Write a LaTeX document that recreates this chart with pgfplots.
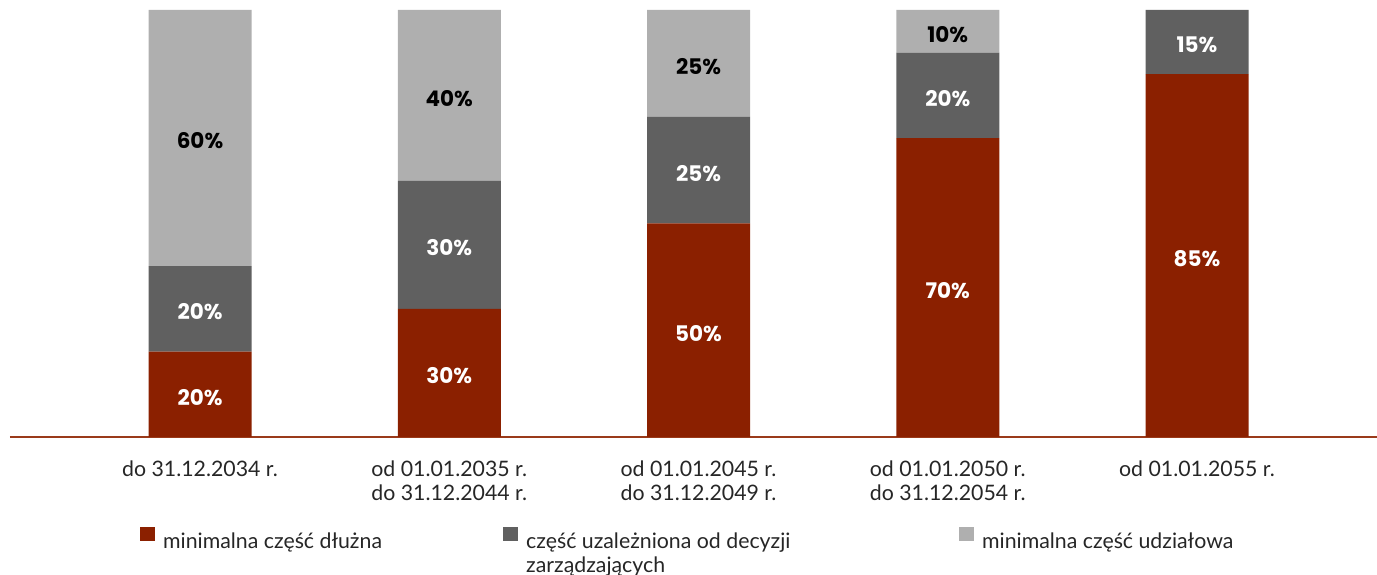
\documentclass[border=0pt]{standalone}
\usepackage{fontspec}
\setmainfont{Lato}
\newfontfamily\valfont{Poppins}
\usepackage{pgfplots}
\usepackage{pgfplotstable}
\pgfplotsset{compat=1.18}
\definecolor{dred}{HTML}{8B2000}
\definecolor{dgray}{HTML}{606060}
\definecolor{lgray}{HTML}{AFAFAF}
\definecolor{axred}{HTML}{9A3A1A}
\pgfplotstableread{
x a b
200 20 20
449.25 30 30
698.5 50 25
947.75 70 20
1197 85 15
}\dataab
\pgfplotstableread{
x c
200 60
449.25 40
698.5 25
947.75 10
}\datac
\begin{document}
\begin{tikzpicture}[x=1pt,y=1pt]
\useasboundingbox (0,0) rectangle (1377,575);
\begin{axis}[
  at={(10pt,138pt)}, anchor=south west,
  scale only axis, width=1367pt, height=427pt,
  xmin=10, xmax=1377, ymin=0, ymax=100,
  ybar stacked, bar width=103,
  axis x line=bottom, axis y line=none,
  x axis line style={-, color=axred, line width=2pt},
  xtick={200,449.25,698.5,947.75,1197},
  xticklabels={{do 31.12.2034 r.},{od 01.01.2035 r.\\do 31.12.2044 r.},{od 01.01.2045 r.\\do 31.12.2049 r.},{od 01.01.2050 r.\\do 31.12.2054 r.},{od 01.01.2055 r.}},
  major tick length=0pt,
  xticklabel style={align=center, anchor=north, inner sep=0pt, yshift=-24pt, font=\fontsize{21.3}{24}\selectfont, text=black!85},
  ytick=\empty,
  point meta=explicit symbolic,
  nodes near coords={\valfont\bfseries\pgfplotspointmeta\%},
  every node near coord/.append style={anchor=center, inner sep=0pt, yshift=-3pt, font=\fontsize{21.5}{22}\selectfont},
  legend columns=3,
  legend cell align=left,
  legend image code/.code={\fill[#1] (0pt,0pt) rectangle (15pt,14.5pt);},
  legend style={at={(axis description cs:0.0951,-0.21)}, anchor=north west, draw=none, inner sep=0pt, fill=none,
    font=\fontsize{21.3}{24}\selectfont, text=black!85,
    /tikz/every odd column/.append style={column sep=8pt},
    nodes={inner sep=0pt}},
]
\addplot[fill=dred, draw=none, every node near coord/.append style={text=white}] table[x=x, y=a, meta=a] {\dataab};
\addlegendentry{\parbox[t]{340pt}{minimalna część dłużna}}
\addplot[fill=dgray, draw=none, every node near coord/.append style={text=white}] table[x=x, y=b, meta=b] {\dataab};
\addlegendentry{\parbox[t]{433pt}{część uzależniona od decyzji\\zarządzających}}
\addplot[fill=lgray, draw=none, every node near coord/.append style={text=black}] table[x=x, y=c, meta=c] {\datac};
\addlegendentry{minimalna część udziałowa}
\end{axis}
\end{tikzpicture}
\end{document}
